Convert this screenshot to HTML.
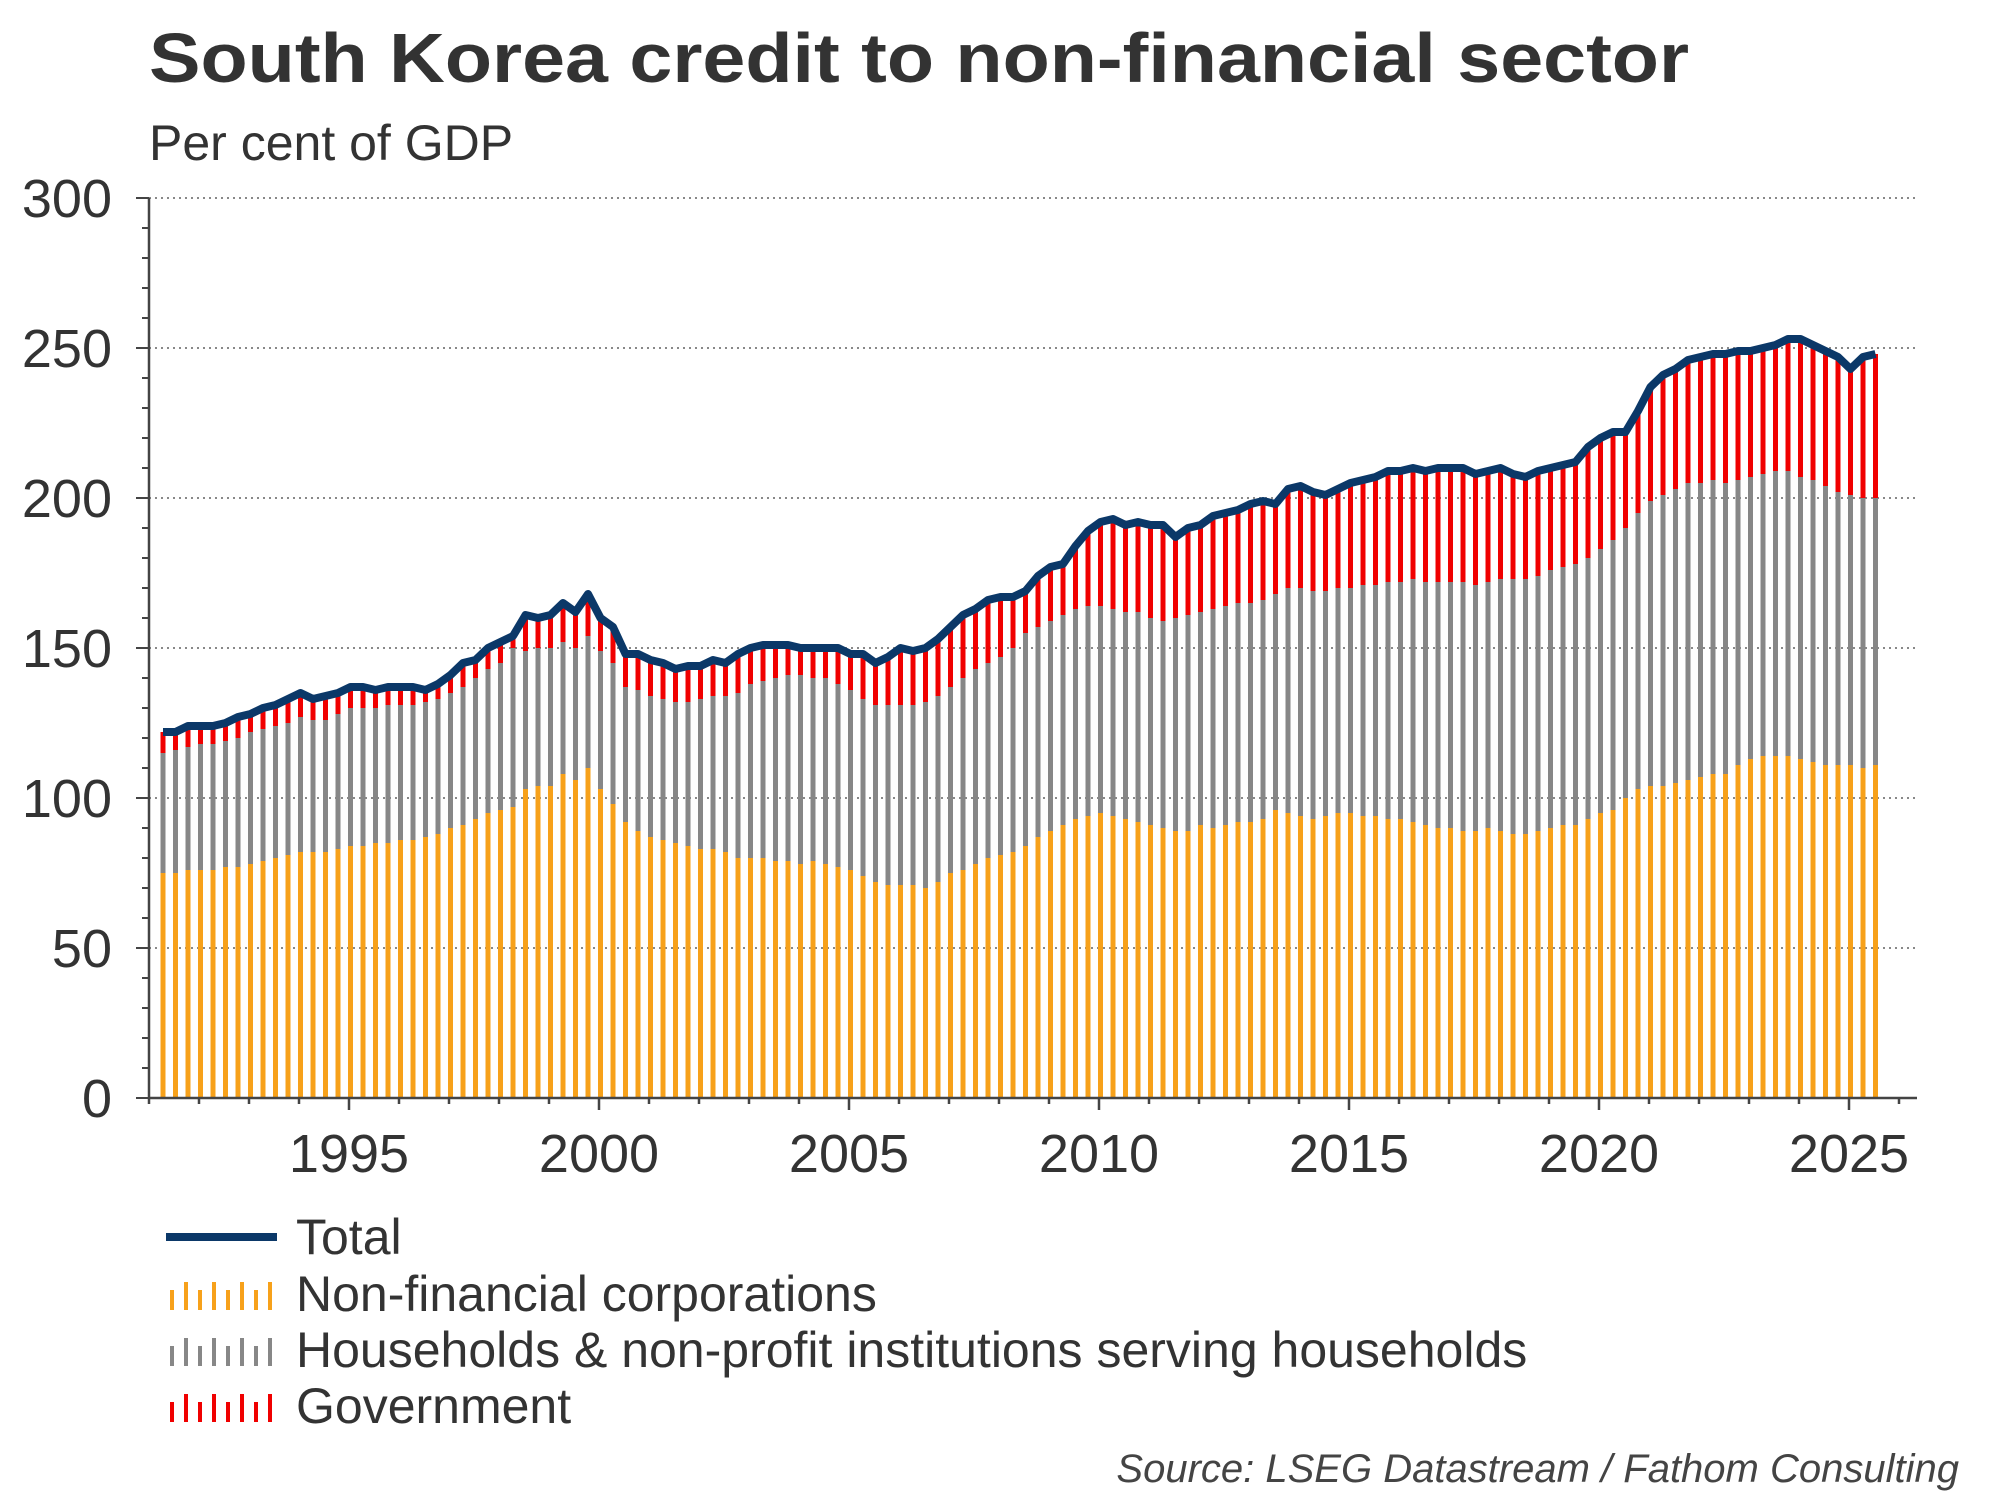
<!DOCTYPE html>
<html><head><meta charset="utf-8"><style>
html,body{margin:0;padding:0;background:#fff;}
svg{display:block;font-family:"Liberation Sans",Arial,sans-serif;}
</style></head><body>
<svg id="chart" width="2000" height="1500" viewBox="0 0 2000 1500" xmlns="http://www.w3.org/2000/svg">
<text x="149" y="82" font-size="70" font-weight="bold" fill="#333" textLength="1540" lengthAdjust="spacingAndGlyphs">South Korea credit to non-financial sector</text>
<text x="149" y="160" font-size="50" fill="#333">Per cent of GDP</text>
<g id="grid"></g>
<g id="bars"></g>
<g id="line"></g>
<g id="axes"></g>
<g>
 <g>
  <line x1="166" y1="1237" x2="277" y2="1237" stroke="#0B3868" stroke-width="8"/>
  <text x="296" y="1254" font-size="50" fill="#333">Total</text>
 </g>
 <g>
  <g id="lg1"></g>
  <text x="296" y="1311" font-size="50" fill="#333">Non-financial corporations</text>
 </g>
 <g>
  <g id="lg2"></g>
  <text x="296" y="1367" font-size="50" fill="#333">Households &amp; non-profit institutions serving households</text>
 </g>
 <g>
  <g id="lg3"></g>
  <text x="296" y="1423" font-size="50" fill="#333">Government</text>
 </g>
</g>
<text x="1959" y="1482" font-size="40" font-style="italic" fill="#444" text-anchor="end">Source: LSEG Datastream / Fathom Consulting</text>
</svg>
<script>
const startYear = 1991;
const nfc = [
75,75,76,76, 76,77,77,78, 79,80,81,82, 82,82,83,84, 84,85,85,86, 86,87,88,90, 91,93,95,96, 97,103,104,104,
108,106,110,103, 98,92,89,87, 86,85,84,83, 83,82,80,80, 80,79,79,78, 79,78,77,76, 74,72,71,71, 71,70,72,75,
76,78,80,81, 82,84,87,89, 91,93,94,95, 94,93,92,91, 90,89,89,91, 90,91,92,92, 93,96,95,94, 93,94,95,95,
94,94,93,93, 92,91,90,90, 89,89,90,89, 88,88,89,90, 91,91,93,95, 96,100,103,104, 104,105,106,107,
108,108,111,113, 114,114,114,113, 112,111,111,111, 110,111];
const householdsTop = [
115,116,117,118, 118,119,120,122, 123,124,125,127, 126,126,128,130, 130,130,131,131, 131,132,133,135, 137,140,143,145, 150,149,150,150,
152,150,154,149, 145,137,136,134, 133,132,132,133, 134,134,135,138, 139,140,141,141, 140,140,138,136, 133,131,131,131, 131,132,134,137,
140,143,145,147, 150,155,157,159, 161,163,164,164, 163,162,162,160, 159,160,161,162, 163,164,165,165, 166,168,170,170, 169,169,170,170,
171,171,172,172, 173,172,172,172, 172,171,172,173, 173,173,174,176, 177,178,180,183, 186,190,195,199, 201,203,205,205,
206,205,206,207, 208,209,209,207, 206,204,202,201, 200,200];
const total = [
122,122,124,124, 124,125,127,128, 130,131,133,135, 133,134,135,137, 137,136,137,137, 137,136,138,141, 145,146,150,152, 154,161,160,161,
165,162,168,160, 157,148,148,146, 145,143,144,144, 146,145,148,150, 151,151,151,150, 150,150,150,148, 148,145,147,150, 149,150,153,157,
161,163,166,167, 167,169,174,177, 178,184,189,192, 193,191,192,191, 191,187,190,191, 194,195,196,198, 199,198,203,204, 202,201,203,205,
206,207,209,209, 210,209,210,210, 210,208,209,210, 208,207,209,210, 211,212,217,220, 222,222,229,237, 241,243,246,247,
248,248,249,249, 250,251,253,253, 251,249,247,243, 247,248];
const yTicks = [0,50,100,150,200,250,300];
const xLabels = [1995,2000,2005,2010,2015,2020,2025];

const NS = "http://www.w3.org/2000/svg";
const X0 = 149, X1 = 1917, Y0 = 1098, Y300 = 198;
const yScale = v => Y0 - (v/300)*(Y0-Y300);
const xYear = yr => X0 + 50*(yr - startYear);
const xBar = i => xYear(startYear) + 14 + 12.5*i;
function mk(tag, attrs, parent){const e=document.createElementNS(NS,tag);for(const k in attrs)e.setAttribute(k,attrs[k]);parent.appendChild(e);return e;}

const grid = document.getElementById('grid');
const axes = document.getElementById('axes');
yTicks.forEach(v=>{
  if(v>0){
    const g = mk('line',{x1:X0,x2:X1,y1:yScale(v),y2:yScale(v),stroke:'#888','stroke-width':2,'stroke-dasharray':'2,4'},grid);
    
    
  }
  const t = mk('text',{x:112,y:yScale(v)+19,'font-size':54,fill:'#333','text-anchor':'end'},axes);
  t.textContent = v;
  
  
});
for(let v=0; v<=300; v+=10){
  const major = v%50===0;
  mk('line',{x1:X0-(major?13:7),x2:X0,y1:yScale(v),y2:yScale(v),stroke:'#444','stroke-width':2},axes);
}
const bars = document.getElementById('bars');
const BW = 5;
for(let i=0;i<total.length;i++){
  const x = xBar(i)-BW/2;
  const r1 = mk('rect',{x:x,y:yScale(nfc[i]),width:BW,height:Y0-yScale(nfc[i]),fill:'#F7A11A'},bars);
  
  
  const r2 = mk('rect',{x:x,y:yScale(householdsTop[i]),width:BW,height:yScale(nfc[i])-yScale(householdsTop[i]),fill:'#878787'},bars);
  
  
  const gh = Math.max(0,yScale(householdsTop[i])-yScale(total[i]));
  const r3 = mk('rect',{x:x,y:yScale(total[i]),width:BW,height:gh,fill:'#F00000'},bars);
  
  
}
const pts = total.map((v,i)=>xBar(i)+','+yScale(v)).join(' ');
const pl = mk('polyline',{points:pts,fill:'none',stroke:'#0B3868','stroke-width':8,'stroke-linejoin':'round'},document.getElementById('line'));



mk('line',{x1:X0,x2:X0,y1:Y300,y2:Y0,stroke:'#444','stroke-width':2.5},axes);
mk('line',{x1:X0,x2:X1,y1:Y0,y2:Y0,stroke:'#444','stroke-width':2.5},axes);
for(let yr=startYear; yr<=2026; yr++){
  const x = xYear(yr);
  if(x>X1) break;
  const major = yr%5===0;
  mk('line',{x1:x,x2:x,y1:Y0,y2:Y0+(major?12:6),stroke:'#444','stroke-width':2.5},axes);
}
xLabels.forEach(yr=>{
  const t = mk('text',{x:xYear(yr),y:1172,'font-size':54,fill:'#333','text-anchor':'middle'},axes);
  t.textContent = yr;
  
  
});
function legendBars(id, color, yc){
  const g = document.getElementById(id);
  for(let k=0;k<8;k++){
    const h = k%2===0?20:28;
    mk('rect',{x:170+k*14,y:yc+14-h,width:4,height:h,fill:color},g);
  }
}
legendBars('lg1','#F7A11A',1296);
legendBars('lg2','#878787',1352);
legendBars('lg3','#F00000',1408);
</script>
</body></html>
